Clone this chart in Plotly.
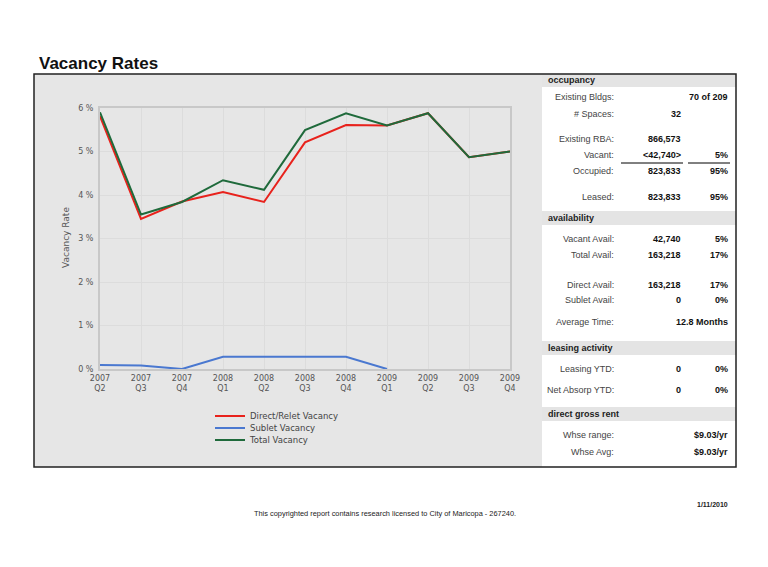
import plotly.graph_objects as go

# Chart data
quarters = ["2007<br>Q2", "2007<br>Q3", "2007<br>Q4", "2008<br>Q1", "2008<br>Q2", "2008<br>Q3",
            "2008<br>Q4", "2009<br>Q1", "2009<br>Q2", "2009<br>Q3", "2009<br>Q4"]
direct_vacancy = [5.81, 3.45, 3.85, 4.07, 3.84, 5.21, 5.61, 5.60, 5.88, 4.87, 5.00]
sublet_vacancy = [0.09, 0.08, 0.0, 0.28, 0.28, 0.28, 0.28, 0.0, None, None, None]
total_vacancy = [5.90, 3.55, 3.84, 4.34, 4.12, 5.49, 5.88, 5.60, 5.88, 4.87, 5.00]
y_ticks = [0, 1, 2, 3, 4, 5, 6]

# Side table: (label, value, pct)
occupancy_rows = [("Existing Bldgs:", "", "70 of 209"), ("# Spaces:", "32", ""),
                  ("Existing RBA:", "866,573", ""), ("Vacant:", "<42,740>", "5%"),
                  ("Occupied:", "823,833", "95%"), ("Leased:", "823,833", "95%")]
availability_rows = [("Vacant Avail:", "42,740", "5%"), ("Total Avail:", "163,218", "17%"),
                     ("Direct Avail:", "163,218", "17%"), ("Sublet Avail:", "0", "0%"),
                     ("Average Time:", "", "12.8 Months")]
leasing_rows = [("Leasing YTD:", "0", "0%"), ("Net Absorp YTD:", "0", "0%")]
rent_rows = [("Whse range:", "", "$9.03/yr"), ("Whse Avg:", "", "$9.03/yr")]

# the page body has an 8px margin, so the figure is a bit smaller than the window
OFF = 8
W, H = 760, 551


def px(x):
    return (x - OFF) / W


def py(y):
    return 1 - (y - OFF) / H


fig = go.Figure()
xs = list(range(len(quarters)))
# each series gets its own small legend so the rows can sit close together
fig.add_trace(go.Scatter(x=xs, y=direct_vacancy, mode="lines", name="Direct/Relet Vacancy",
                         line=dict(color="#e8221c", width=2), legend="legend"))
fig.add_trace(go.Scatter(x=xs, y=sublet_vacancy, mode="lines", name="Sublet Vacancy",
                         line=dict(color="#4a78d0", width=2), legend="legend2"))
fig.add_trace(go.Scatter(x=xs, y=total_vacancy, mode="lines", name="Total Vacancy",
                         line=dict(color="#1f6a3b", width=2), legend="legend3"))

tick_font = dict(family="DejaVu Sans", size=8, color="#555555")
leg_font = dict(family="DejaVu Sans", size=8.5, color="#444444")


def leg(y):
    return dict(x=px(210), y=py(y), xanchor="left", yanchor="middle", bgcolor="rgba(0,0,0,0)",
                font=leg_font, borderwidth=0)


fig.update_layout(
    width=W, height=H,
    margin=dict(l=0, r=0, t=0, b=0, pad=0, autoexpand=False),
    paper_bgcolor="white",
    plot_bgcolor="white",
    showlegend=True,
    legend=leg(416), legend2=leg(428), legend3=leg(440),
    xaxis=dict(domain=[px(100), px(510)], range=[0, 10], tickvals=xs, ticktext=quarters,
               showgrid=True, gridcolor="#dcdcdc", gridwidth=1, zeroline=False,
               showline=True, linecolor="#c8c8c8", linewidth=2, mirror=True, automargin=False,
               tickfont=tick_font, ticks="", fixedrange=True),
    yaxis=dict(domain=[py(369), py(108)], range=[0, 6], tickvals=y_ticks,
               ticktext=[f"{v} %" for v in y_ticks], showgrid=True, gridcolor="#dcdcdc",
               gridwidth=1, zeroline=False, automargin=False, ticklabelstandoff=3,
               showline=True, linecolor="#c8c8c8", linewidth=2, mirror=True,
               tickfont=tick_font, ticks="", fixedrange=True),
)

shapes = [
    # grey chart panel
    dict(type="rect", xref="paper", yref="paper", x0=px(34), x1=px(542), y0=py(467), y1=py(74),
         fillcolor="#e6e6e6", line=dict(width=0), layer="below"),
]
headers = [("occupancy", 74, 87), ("availability", 211, 225),
           ("leasing activity", 341, 355), ("direct gross rent", 407, 421)]
for _, top, bot in headers:
    shapes.append(dict(type="rect", xref="paper", yref="paper", x0=px(542), x1=px(736),
                       y0=py(bot), y1=py(top), fillcolor="#e4e4e4", line=dict(width=0), layer="below"))
# underlines below the Vacant row
shapes.append(dict(type="line", xref="paper", yref="paper", x0=px(621), x1=px(683),
                   y0=py(163), y1=py(163), line=dict(color="black", width=1)))
shapes.append(dict(type="line", xref="paper", yref="paper", x0=px(688), x1=px(730),
                   y0=py(163), y1=py(163), line=dict(color="black", width=1)))
# outer frame
shapes.append(dict(type="rect", xref="paper", yref="paper", x0=px(34), x1=px(736),
                   y0=py(467), y1=py(74), line=dict(color="#222222", width=1.5)))
fig.update_layout(shapes=shapes)

ann = []


def text(x, y, s, anchor="left", size=9, bold=False, color="#333333", family="Liberation Sans"):
    ann.append(dict(xref="paper", yref="paper", x=px(x), y=py(y), text=f"<b>{s}</b>" if bold else s,
                    xanchor=anchor, yanchor="middle", showarrow=False,
                    font=dict(family=family, size=size, color=color)))


text(37, 64, "Vacancy Rates", size=17, bold=True, color="#111111")
ann.append(dict(xref="paper", yref="paper", x=px(66), y=py(238), text="Vacancy Rate", textangle=-90,
                showarrow=False, xanchor="center", yanchor="middle",
                font=dict(family="DejaVu Sans", size=9, color="#555555")))

for name, top, bot in headers:
    text(546, (top + bot) / 2, name, bold=True, color="#222222")

row_y = {
    "Existing Bldgs:": 97, "# Spaces:": 114, "Existing RBA:": 139, "Vacant:": 155,
    "Occupied:": 171, "Leased:": 197, "Vacant Avail:": 239, "Total Avail:": 255,
    "Direct Avail:": 285, "Sublet Avail:": 300, "Average Time:": 322,
    "Leasing YTD:": 369, "Net Absorp YTD:": 390, "Whse range:": 435, "Whse Avg:": 452,
}
for rows in (occupancy_rows, availability_rows, leasing_rows, rent_rows):
    for label, val, pct in rows:
        y = row_y[label]
        text(616, y, label, anchor="right", color="#444444")
        if val:
            text(683, y, val, anchor="right", bold=True, color="#111111")
        if pct:
            text(730, y, pct, anchor="right", bold=True, color="#111111")

text(385, 513, "This copyrighted report contains research licensed to City of Maricopa - 267240.",
     anchor="center", size=7.4, color="#222222")
text(730, 504, "1/11/2010", anchor="right", size=7, bold=True, color="#222222")

fig.update_layout(annotations=ann)

fig.write_html("out.html")
